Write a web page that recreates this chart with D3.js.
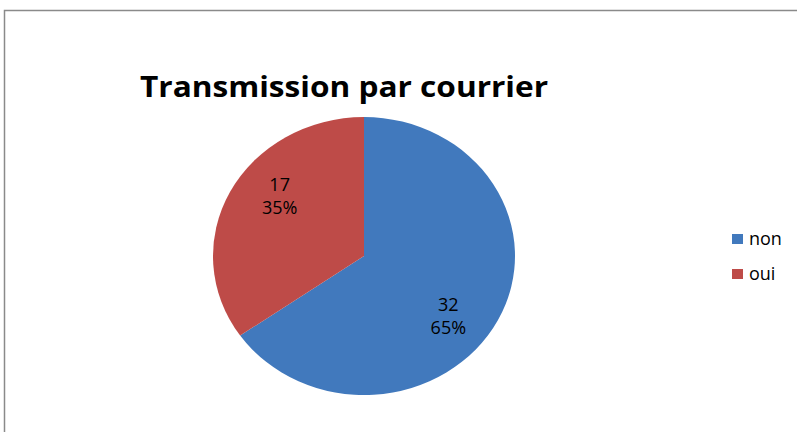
<html>
  <head>
    <title>Transmission par courrier</title>
    <style>
      body { margin: 0; background: #fff; }
      text { font-family: "Open Sans", "DejaVu Sans", sans-serif; }
    </style>
  </head>
  <body>
    <svg id="chart" width="797" height="432"></svg>

    <script type="text/javascript" src="https://cdnjs.cloudflare.com/ajax/libs/d3/7.8.5/d3.min.js"></script>
    <script type="text/javascript">
      var categories = ['non', 'oui'];
      var values = [32, 17];
      var percentLabels = ['65%', '35%'];
      var colors = ['#4179bd', '#be4b48'];

      var svg = d3.select('#chart');

      // frame (only top and left visible in the crop)
      svg.append('path')
        .attr('d', 'M4.5,432 V10.5 H797')
        .style('fill', 'none')
        .style('stroke', '#8a8a8a')
        .style('stroke-width', 1.5);

      svg.append('text')
        .attr('x', 344)
        .attr('y', 97)
        .attr('text-anchor', 'middle')
        .attr('textLength', 408)
        .attr('lengthAdjust', 'spacingAndGlyphs')
        .style('font-size', '29px')
        .style('font-weight', 'bold')
        .style('fill', '#000')
        .text('Transmission par courrier');

      var data = categories.map(function (c, i) {
        return { name: c, value: values[i], pct: percentLabels[i], color: colors[i] };
      });

      var rx = 151, ry = 139;
      var pie = d3.pie().sort(null).value(function (d) { return d.value; });
      var arc = d3.arc().innerRadius(0).outerRadius(ry);

      var pieG = svg.append('g')
        .attr('transform', 'translate(364,256)');
      var slices = pieG.append('g').attr('transform', 'scale(' + (rx / ry) + ',1)');

      var arcs = pie(data);
      slices.selectAll('path').data(arcs).enter().append('path')
        .attr('d', arc)
        .style('fill', function (d) { return d.data.color; });

      // label anchor: mid angle, pulled in more horizontally than vertically
      var lab = pieG.selectAll('text.lab').data(arcs).enter().append('text')
        .attr('class', 'lab')
        .attr('text-anchor', 'middle')
        .style('font-size', '18px')
        .style('fill', '#000')
        .attr('transform', function (d) {
          var a = (d.startAngle + d.endAngle) / 2;
          return 'translate(' + (Math.sin(a) * rx * 0.63) + ',' + (-Math.cos(a) * ry * 0.93) + ')';
        });
      lab.append('tspan')
        .attr('x', 0)
        .attr('y', -5)
        .text(function (d) { return d.data.value; });
      lab.append('tspan')
        .attr('x', 0)
        .attr('y', 18)
        .text(function (d) { return d.data.pct; });

      var legend = svg.selectAll('g.legend').data(data).enter().append('g')
        .attr('class', 'legend')
        .attr('transform', function (d, i) { return 'translate(732,' + (234 + i * 35) + ')'; });
      legend.append('rect')
        .attr('width', 11)
        .attr('height', 10)
        .style('fill', function (d) { return d.color; });
      legend.append('text')
        .attr('x', 17)
        .attr('y', 11)
        .style('font-size', '18px')
        .style('fill', '#000')
        .text(function (d) { return d.name; });
    </script>
  </body>
</html>
